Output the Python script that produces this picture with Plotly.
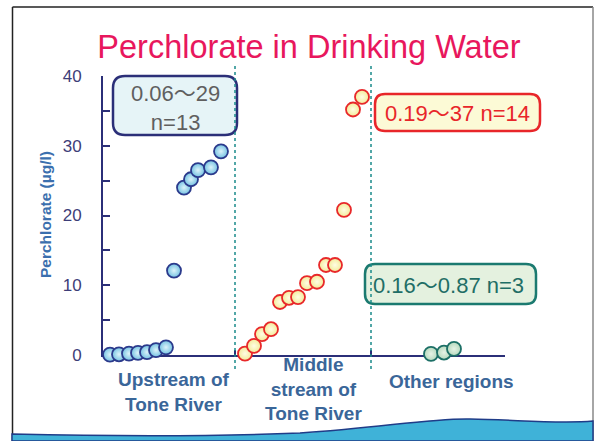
import plotly.graph_objects as go

# strip positions along the x axis and measured values (µg/l)
upstream_pos = [7, 16, 26, 35, 44, 53, 63, 71, 81, 88, 95, 108, 118]
upstream_val = [0.06, 0.1, 0.2, 0.3, 0.4, 0.7, 1.1, 12.1, 24.0, 25.2, 26.5, 26.9, 29.2]

middle_pos = [142, 151, 159, 168, 177, 186, 195, 204, 214, 223, 232, 241, 250, 259]
middle_val = [0.19, 1.3, 3.0, 3.7, 7.6, 8.2, 8.3, 10.3, 10.5, 12.9, 12.9, 20.8, 35.2, 37.0]

other_pos = [328, 341, 351]
other_val = [0.16, 0.35, 0.87]

group_edges = [132, 268]
group_labels = ['Upstream of<br>Tone River', 'Middle<br>stream of<br>Tone River', 'Other regions']
range_labels = ['0.06～29<br>n=13', '0.19～37 n=14', '0.16～0.87 n=3']

W, H = 596, 441
L, R, T, B = 103, 505, 76, 355
X_MAX = R - L

FONT = 'Liberation Sans, Arial, Noto Sans CJK JP, sans-serif'
NAVY = '#2b2f78'


def px(x):
    return (x - L) / (R - L)


def py(y):
    return (B - y) / (B - T)


def rbox(x0, y0, x1, y1, r):
    pts = [
        ('M', [(x0 + r, y0)]), ('L', [(x1 - r, y0)]), ('Q', [(x1, y0), (x1, y0 + r)]),
        ('L', [(x1, y1 - r)]), ('Q', [(x1, y1), (x1 - r, y1)]),
        ('L', [(x0 + r, y1)]), ('Q', [(x0, y1), (x0, y1 - r)]),
        ('L', [(x0, y0 + r)]), ('Q', [(x0, y0), (x0 + r, y0)]),
    ]
    s = ''
    for cmd, ps in pts:
        s += cmd + ' ' + ' '.join(f'{px(a):.5f},{py(b):.5f}' for a, b in ps) + ' '
    return s + 'Z'


def strip(pos, val, fill, center, edge):
    return go.Scatter(
        x=pos, y=val, mode='markers', cliponaxis=False, showlegend=False,
        marker=dict(size=14, color=fill, line=dict(color=edge, width=1.8),
                    gradient=dict(type='radial', color=center)),
    )


fig = go.Figure()
fig.add_trace(strip(upstream_pos, upstream_val, '#74c2e2', '#dcf3fa', '#2b3a8c'))
fig.add_trace(strip(middle_pos, middle_val, '#f3eb98', '#fffde4', '#e8282a'))
fig.add_trace(strip(other_pos, other_val, '#b5d9bd', '#e6f3e6', '#1c6f66'))

shapes = []
# slide frame
shapes.append(dict(type='line', xref='paper', yref='paper', x0=px(12.5), x1=px(12.5),
                   y0=py(7), y1=py(441), line=dict(color='#222', width=1.5)))
shapes.append(dict(type='line', xref='paper', yref='paper', x0=px(12.5), x1=px(593),
                   y0=py(7), y1=py(7), line=dict(color='#222', width=1.5)))
shapes.append(dict(type='line', xref='paper', yref='paper', x0=px(593), x1=px(593),
                   y0=py(7), y1=py(441), line=dict(color='#888', width=1.5)))
# bottom wave
wave_path = (f'M {px(12):.5f},{py(441):.5f} L {px(12):.5f},{py(434):.5f} '
             f'C {px(100):.5f},{py(436):.5f} {px(200):.5f},{py(437):.5f} {px(300):.5f},{py(433):.5f} '
             f'C {px(380):.5f},{py(428):.5f} {px(430):.5f},{py(418):.5f} {px(470):.5f},{py(419):.5f} '
             f'C {px(520):.5f},{py(420):.5f} {px(560):.5f},{py(424):.5f} {px(593):.5f},{py(421):.5f} '
             f'L {px(593):.5f},{py(441):.5f} Z')
shapes.append(dict(type='path', xref='paper', yref='paper', path=wave_path,
                   fillcolor='#3fb2d8', line=dict(color='#1f3c88', width=1.5)))

# range boxes
boxes = [
    ((113, 76, 237, 135, 12), '#e6f4f7', NAVY, '#5f5f5f', (175, 107.5)),
    ((375, 94, 540, 131, 10), '#fcfad6', '#e8262a', '#e8262a', (457.5, 113)),
    ((365, 264, 536, 304, 10), '#e4f1df', '#1b7a70', '#1f6e66', (448, 285)),
]
annotations = []
for (geom, fill, edge, tcol, (tx, ty)), text in zip(boxes, range_labels):
    shapes.append(dict(type='path', xref='paper', yref='paper', path=rbox(*geom),
                       fillcolor=fill, line=dict(color=edge, width=2.5), layer='below'))
    annotations.append(dict(xref='paper', yref='paper', x=px(tx), y=py(ty), text=text,
                            showarrow=False, xanchor='center', yanchor='middle',
                            font=dict(family=FONT, size=22, color=tcol)))

# group separators
for xe in group_edges:
    shapes.append(dict(type='line', xref='paper', yref='paper', x0=xe / X_MAX, x1=xe / X_MAX,
                       y0=py(66), y1=py(370), line=dict(color='#1a8a8a', width=1.5, dash='dot')))

label_pos = [(174, 392), (313, 389), (451, 381)]
for text, (lx, ly) in zip(group_labels, label_pos):
    annotations.append(dict(xref='paper', yref='paper', x=px(lx), y=py(ly), text=text,
                            showarrow=False, xanchor='center', yanchor='middle',
                            font=dict(family=FONT, size=19, color='#3a6699', weight='bold')))

annotations.append(dict(xref='paper', yref='paper', x=px(45), y=py(214),
                        text='Perchlorate (µg/l)', textangle=-90, showarrow=False,
                        xanchor='center', yanchor='middle',
                        font=dict(family=FONT, size=15.5, color='#3b6fae', weight='bold')))

fig.update_layout(
    width=W, height=H,
    margin=dict(l=L, r=W - R, t=T, b=H - B),
    paper_bgcolor='white', plot_bgcolor='white',
    title=dict(text='Perchlorate in Drinking Water', x=309 / W, y=1 - 47 / H,
               xanchor='center', yanchor='middle',
               font=dict(family=FONT, size=32.5, color='#e8175d')),
    showlegend=False,
    shapes=shapes,
    annotations=annotations,
    xaxis=dict(range=[0, X_MAX], showgrid=False, zeroline=False, showline=True,
               linecolor=NAVY, linewidth=2, ticks='inside', ticklen=5, tickwidth=2,
               tickcolor=NAVY, tickvals=group_edges + [X_MAX], showticklabels=False,
               layer='below traces', fixedrange=True),
    yaxis=dict(range=[0, 40], showgrid=False, zeroline=False, showline=True,
               linecolor=NAVY, linewidth=2, ticks='inside', ticklen=7, tickwidth=2,
               tickcolor=NAVY, tickvals=[0, 10, 20, 30, 40], ticklabelstandoff=16,
               minor=dict(tickvals=[5, 15, 25, 35], ticks='inside', ticklen=7,
                          tickwidth=2, tickcolor=NAVY),
               tickfont=dict(family=FONT, size=17, color='#3d3d78'),
               layer='below traces', fixedrange=True),
)

# the page's default body margin would shift the figure by 8px
fig.write_html('out.html', config={'displayModeBar': False},
               post_script="document.body.style.margin='0';")
